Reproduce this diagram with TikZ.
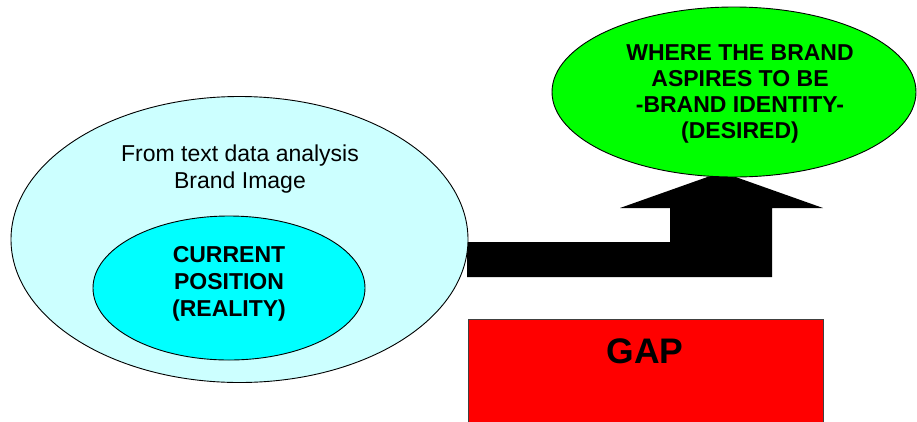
\documentclass[tikz,border=0pt]{standalone}
\usepackage{fontspec}
\setmainfont{Liberation Sans}
\usetikzlibrary{shapes.geometric}
\definecolor{paleCyan}{HTML}{CCFFFF}
\definecolor{brightCyan}{HTML}{00FFFF}
\definecolor{brightGreen}{HTML}{00FF00}
\definecolor{brightRed}{HTML}{FF0000}
\tikzset{
  oval/.style={ellipse, draw=black, line width=0.9pt, inner sep=0pt, outer sep=0pt},
  plainline/.style={anchor=base, inner sep=0pt, font=\fontsize{23}{27}\selectfont},
  boldline/.style={anchor=base, inner sep=0pt, font=\fontsize{23}{27}\selectfont\bfseries},
  gaplabel/.style={anchor=base, inner sep=0pt, font=\fontsize{35.5}{40}\selectfont\bfseries},
  blockarrow/.style={fill=black, draw=none}
}
\begin{document}
\begin{tikzpicture}[x=1pt, y=-1pt]
  \clip (0,0) rectangle (917,421);
  \fill[white] (0,0) rectangle (917,421);

  % bent block arrow from the current position up to the desired identity
  \fill[blockarrow] (467,242) -- (670,242) -- (670,208) -- (620,208)
    -- (721.5,172) -- (823,208) -- (772,208) -- (772,277) -- (467,277) -- cycle;

  % brand image with the current position inside it
  \node[oval, fill=paleCyan, minimum width=457pt, minimum height=286pt] (image) at (239.5,239.5) {};
  \node[plainline] (img1) at (240,161) {From text data analysis};
  \node[plainline] (img2) at (240,188) {Brand Image};

  \node[oval, fill=brightCyan, minimum width=272pt, minimum height=144pt] (current) at (229,288) {};
  \node[boldline] (cur1) at (229,262.7) {CURRENT};
  \node[boldline] (cur2) at (229,289.7) {POSITION};
  \node[boldline] (cur3) at (229,316.7) {(REALITY)};

  % desired brand identity
  \node[oval, fill=brightGreen, minimum width=364pt, minimum height=170pt] (desired) at (734,92) {};
  \node[boldline] (des1) at (740,60) {WHERE THE BRAND};
  \node[boldline] (des2) at (740,86) {ASPIRES TO BE};
  \node[boldline] (des3) at (740,112) {-BRAND IDENTITY-};
  \node[boldline] (des4) at (740,138) {(DESIRED)};

  % the gap between both
  \draw[fill=brightRed, draw=black!75, line width=0.9pt] (468,319) rectangle (823,440);
  \node[gaplabel] (gap) at (645,363.3) {GAP};
\end{tikzpicture}
\end{document}
